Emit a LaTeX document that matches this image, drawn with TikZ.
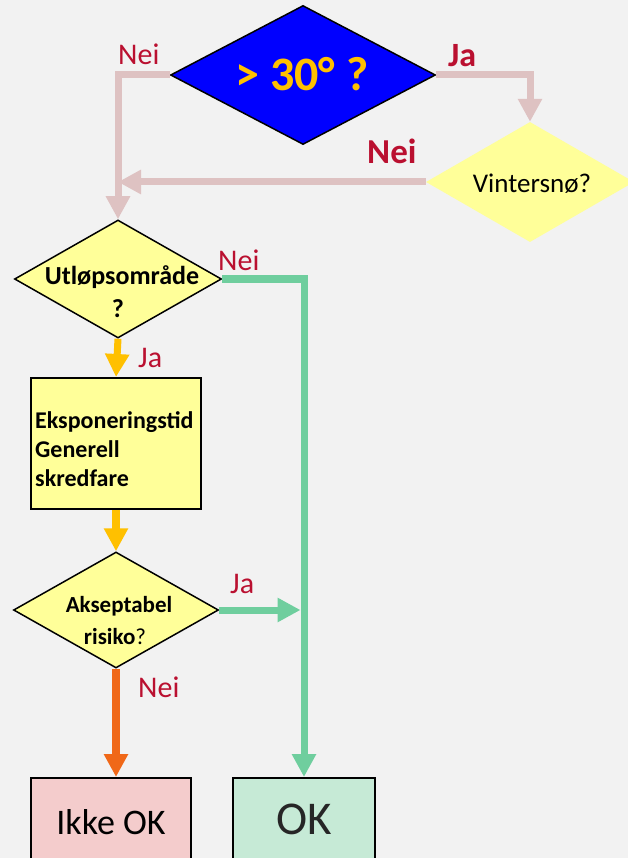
\documentclass[tikz,border=0pt]{standalone}
\usepackage{fontspec}
\setmainfont{Carlito}
\usetikzlibrary{shapes.geometric,arrows.meta}
\definecolor{bgray}{RGB}{242,242,242}
\definecolor{dyellow}{RGB}{255,255,153}
\definecolor{lred}{RGB}{186,16,48}
\definecolor{lpink}{RGB}{222,194,194}
\definecolor{lgreen}{RGB}{111,206,158}
\definecolor{lgold}{RGB}{255,192,0}
\definecolor{lorange}{RGB}{240,104,24}
\definecolor{ikkefill}{RGB}{244,204,204}
\definecolor{okfill}{RGB}{198,234,214}

\begin{document}
\begin{tikzpicture}[x=1pt,y=-1pt,>={Triangle[width=23pt,length=23pt]},
  dec node/.style={diamond,draw=black,line width=1.5pt,fill=dyellow,inner sep=0pt},
  box node/.style={rectangle,draw=black,line width=2pt,inner sep=0pt},
  lbl/.style={text=lred,inner sep=0pt,font=\fontsize{30}{36}\selectfont},
  dtext/.style={inner sep=0pt,font=\bfseries\fontsize{24}{29}\selectfont},
  conn/.style={->,line width=7pt}]

  \useasboundingbox (0,0) rectangle (628,858);
  \clip (0,0) rectangle (628,858);
  \fill[bgray] (0,0) rectangle (628,858);

  % decisions
  \node[dec node,fill=blue,minimum width=265pt,minimum height=139pt] (steep) at (303,75) {};
  \node[inner sep=0pt,text=lgold,font=\bfseries\fontsize{48}{56}\selectfont] (steeptxt) at (302,74) {> 30° ?};
  \node[diamond,fill=dyellow,inner sep=0pt,minimum width=208pt,minimum height=120pt] (vinter) at (530,182) {};
  \node[inner sep=0pt,font=\fontsize{27}{32}\selectfont] (vintertxt) at (532,184) {Vintersnø?};
  \node[dec node,minimum width=207pt,minimum height=118pt] (utlop) at (118,279) {};
  \node[dtext,font=\bfseries\fontsize{26}{32}\selectfont,anchor=base] (utlop1) at (122,284) {Utløpsområde};
  \node[dtext,font=\bfseries\fontsize{26}{32}\selectfont,anchor=base] (utlop2) at (118,317) {?};
  \node[box node,fill=dyellow,minimum width=170pt,minimum height=131pt] (ekspo) at (116,443.5) {};
  \node[dtext,align=left,anchor=north west] (ekspotxt) at (35,411) {Eksponeringstid\\Generell\\skredfare};
  \node[dec node,minimum width=205pt,minimum height=116pt] (akse) at (116,610) {};
  \node[dtext,font=\bfseries\fontsize{23}{29}\selectfont,anchor=base] (akse1) at (119,612) {Akseptabel};
  \node[dtext,font=\bfseries\fontsize{23}{29}\selectfont,anchor=base] (akse2) at (115,644) {risiko\mdseries?};

  % outcomes
  \node[box node,fill=ikkefill,minimum width=160pt,minimum height=89pt,font=\fontsize{36}{40}\selectfont] (ikke) at (111,822.5) {Ikke OK};
  \node[box node,fill=okfill,minimum width=142pt,minimum height=82pt,text=black!85,font=\fontsize{47}{52}\selectfont] (ok) at (304,819) {OK};

  % connectors
  \draw[conn,lpink] (steep.west) -| (utlop.north);
  \draw[conn,lpink] (steep.east) -| (vinter.north);
  \draw[conn,lpink] (vinter.west) -- (vinter.west -| utlop.north);
  \draw[conn,lgreen] (utlop.east) -| (ok.north);
  \draw[conn,lgreen,shorten >=3.5pt] (akse.east) -- (akse.east -| ok.north);
  \draw[conn,lgold] (utlop.south) -- (ekspo.north);
  \draw[conn,lgold,line width=8pt] (ekspo.south) -- (akse.north);
  \draw[conn,lorange,line width=8pt] (akse.south) -- (akse.south |- ikke.north);

  % labels
  \node[lbl,anchor=base west] (nei1) at (118,65) {Nei};
  \node[lbl,anchor=base west,font=\bfseries\fontsize{34}{40}\selectfont] (ja1) at (448,67) {Ja};
  \node[lbl,anchor=base west,font=\bfseries\fontsize{35}{40}\selectfont] (nei2) at (367,164) {Nei};
  \node[lbl,anchor=base west] (nei3) at (218,270) {Nei};
  \node[lbl,anchor=base west] (ja2) at (138,367) {Ja};
  \node[lbl,anchor=base west] (ja3) at (230,593) {Ja};
  \node[lbl,anchor=base west] (nei4) at (138,697) {Nei};

\end{tikzpicture}
\end{document}
